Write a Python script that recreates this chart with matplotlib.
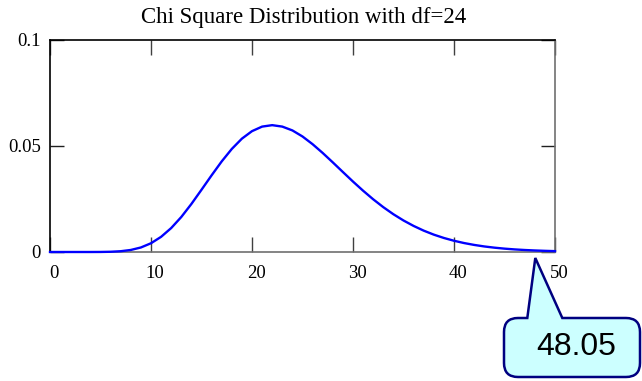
import matplotlib
matplotlib.use("Agg")
import matplotlib.pyplot as plt
from matplotlib.path import Path
from matplotlib.patches import PathPatch
from matplotlib.transforms import IdentityTransform, ScaledTranslation

# chi-square density with df=24 at whole x values
x_vals = list(range(0, 51))
density = [
    0.0, 0.0, 0.0, 0.0, 0.0, 0.00002, 0.00011, 0.00037, 0.00096, 0.00213,
    0.00412, 0.00714, 0.01127, 0.01648, 0.02261, 0.02929, 0.03608, 0.04263, 0.04850, 0.05334,
    0.05687, 0.05901, 0.05969, 0.05901, 0.05721, 0.05436, 0.05073, 0.04660, 0.04217, 0.03763,
    0.03314, 0.02884, 0.02480, 0.02110, 0.01777, 0.01483, 0.01227, 0.01005, 0.00817, 0.00660,
    0.00529, 0.00421, 0.00333, 0.00261, 0.00204, 0.00158, 0.00122, 0.00094, 0.00072, 0.00055,
    0.00041,
]
x_ticks = [0, 10, 20, 30, 40, 50]
y_ticks = [0, 0.05, 0.1]
y_tick_labels = ["0", "0.05", "0.1"]
critical_value = 48.05
title = "Chi Square Distribution with df=24"

W, H = 642, 381
fig = plt.figure(figsize=(W / 100, H / 100), dpi=100)
ax = fig.add_axes([50 / W, 1 - 252 / H, 505 / W, 212.5 / H])

ax.plot(x_vals, density, color="#0000ff", linewidth=1.7, clip_on=False, zorder=3)
ax.set_xlim(0, 50)
ax.set_ylim(0, 0.1)

ax.set_xticks(x_ticks)
ax.set_xticklabels([str(t) for t in x_ticks], fontsize=13.5, family="Liberation Serif")
ax.set_yticks(y_ticks)
ax.set_yticklabels(y_tick_labels, fontsize=13.5, family="Liberation Serif")
ax.tick_params(axis="x", direction="in", length=10.8, width=1, color="#404040",
               top=True, pad=9)
ax.tick_params(axis="y", direction="in", length=10, width=1, color="#202020",
               right=True, pad=6.5)
shift = ScaledTranslation(4 / 100, 0, fig.dpi_scale_trans)
for lbl in ax.get_xticklabels():
    lbl.set_transform(lbl.get_transform() + shift)

ax.spines["left"].set_color("black")
ax.spines["top"].set_color("black")
ax.spines["bottom"].set_color("#707070")
ax.spines["right"].set_color("#707070")
for s in ax.spines.values():
    s.set_linewidth(1.2)

fig.text(0.473, 1 - 18 / H, title, ha="center", va="center",
         fontsize=16.5, family="Liberation Serif")

# callout bubble, drawn in pixel coordinates, tip at the critical value
tip_x, tip_y = ax.transData.transform((critical_value, 0))
tip_y -= 6
top, bot, lft, rgt, r = H - 318, H - 377, 504, 640, 14
verts = [
    (tip_x - 8, top), (tip_x, tip_y), (tip_x + 27, top),
    (rgt - r, top), (rgt, top), (rgt, top - r),
    (rgt, bot + r), (rgt, bot), (rgt - r, bot),
    (lft + r, bot), (lft, bot), (lft, bot + r),
    (lft, top - r), (lft, top), (lft + r, top),
    (tip_x - 8, top),
]
codes = [
    Path.MOVETO, Path.LINETO, Path.LINETO,
    Path.LINETO, Path.CURVE3, Path.CURVE3,
    Path.LINETO, Path.CURVE3, Path.CURVE3,
    Path.LINETO, Path.CURVE3, Path.CURVE3,
    Path.LINETO, Path.CURVE3, Path.CURVE3,
    Path.CLOSEPOLY,
]
bubble = PathPatch(Path(verts, codes), transform=IdentityTransform(),
                   facecolor="#ccffff", edgecolor="#000080", linewidth=1.8)
fig.patches.append(bubble)
fig.text(576 / W, 1 - 347 / H, f"{critical_value:.2f}", ha="center", va="center",
         fontsize=23, family="Liberation Sans")

fig.savefig("out.png", dpi=100)
